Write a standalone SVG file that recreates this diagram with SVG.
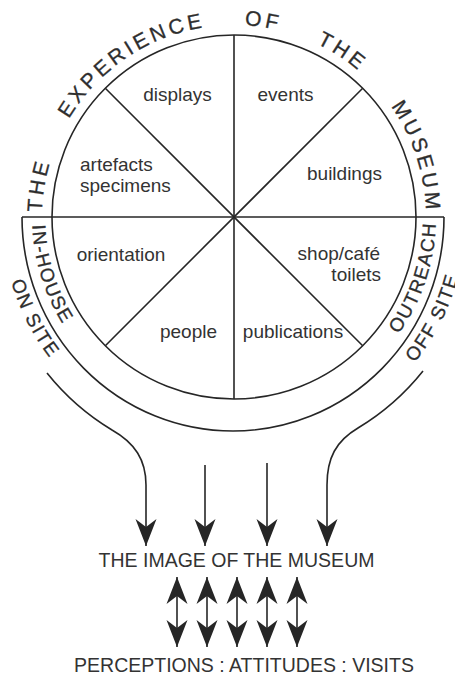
<svg xmlns="http://www.w3.org/2000/svg" xmlns:xlink="http://www.w3.org/1999/xlink" width="455" height="677" viewBox="0 0 455 677">
<style>
.ln{fill:none;stroke:#262626;stroke-width:1.6}
.lab{font-family:"Liberation Sans",Arial,sans-serif;font-size:19px;fill:#333}
.arc{font-family:"Liberation Sans",Arial,sans-serif;fill:#2e2e2e;stroke:#2e2e2e;stroke-width:0.3}
.top{font-size:21px;letter-spacing:3.5px}
.band{font-size:19px;letter-spacing:1.6px}
.big{font-family:"Liberation Sans",Arial,sans-serif;font-size:19.5px;fill:#333}
</style>
<defs>
<marker id="ah" viewBox="-28 -11 29 22" refX="0" refY="0" markerWidth="29" markerHeight="22" markerUnits="userSpaceOnUse" orient="auto-start-reverse">
<path d="M0,0 L-27,-10.5 L-19,0 L-27,10.5 Z" fill="#262626"/>
</marker>
<path id="topArc" d="M 42 217 A 192 192 0 0 1 426 217 A 192 192 0 0 1 42 217"/>
<path id="bandArc" d="M 32 217 A 202 202 0 0 0 436 217 A 202 202 0 0 0 32 217"/>
<path id="outArc" d="M 2 217 A 232 232 0 0 0 466 217 A 232 232 0 0 0 2 217"/>
</defs>
<rect width="455" height="677" fill="#fff"/>

<g id="wheel">
<circle class="ln" cx="234" cy="217" r="182"/>
<path class="ln" d="M 22 217 A 211 214 0 0 0 444 217"/>
<line class="ln" x1="22" y1="217" x2="444" y2="217"/>
<line class="ln" x1="234" y1="35" x2="234" y2="399"/>
<line class="ln" x1="105.3" y1="88.3" x2="362.7" y2="345.7"/>
<line class="ln" x1="362.7" y1="88.3" x2="105.3" y2="345.7"/>
</g>

<g id="arc-title">
<text class="arc top" text-anchor="middle"><textPath xlink:href="#topArc" href="#topArc" startOffset="31">THE</textPath></text>
<text class="arc top" text-anchor="middle"><textPath xlink:href="#topArc" href="#topArc" startOffset="188">EXPERIENCE</textPath></text>
<text class="arc top" text-anchor="middle"><textPath xlink:href="#topArc" href="#topArc" startOffset="330">OF</textPath></text>
<text class="arc top" text-anchor="middle"><textPath xlink:href="#topArc" href="#topArc" startOffset="413">THE</textPath></text>
<text class="arc top" text-anchor="middle"><textPath xlink:href="#topArc" href="#topArc" startOffset="542">MUSEUM</textPath></text>
</g>
<g id="in-house"><text class="arc band" text-anchor="middle"><textPath xlink:href="#bandArc" href="#bandArc" startOffset="61">IN-HOUSE</textPath></text></g>
<g id="outreach"><text class="arc band" text-anchor="middle"><textPath xlink:href="#bandArc" href="#bandArc" startOffset="569">OUTREACH</textPath></text></g>
<g id="on-site"><text class="arc band" text-anchor="middle"><textPath xlink:href="#outArc" href="#outArc" startOffset="109">ON SITE</textPath></text></g>
<g id="off-site"><text class="arc band" text-anchor="middle"><textPath xlink:href="#outArc" href="#outArc" startOffset="620">OFF SITE</textPath></text></g>

<g id="displays"><text class="lab" x="177.5" y="101" text-anchor="middle">displays</text></g>
<g id="events"><text class="lab" x="285.5" y="101" text-anchor="middle">events</text></g>
<g id="artefacts"><text class="lab" x="80" y="171">artefacts</text><text class="lab" x="80" y="192">specimens</text></g>
<g id="buildings"><text class="lab" x="344.5" y="180" text-anchor="middle">buildings</text></g>
<g id="orientation"><text class="lab" x="121" y="261" text-anchor="middle">orientation</text></g>
<g id="shop"><text class="lab" x="380" y="260" text-anchor="end">shop/café</text><text class="lab" x="381" y="281" text-anchor="end">toilets</text></g>
<g id="people"><text class="lab" x="188.5" y="338" text-anchor="middle">people</text></g>
<g id="publications"><text class="lab" x="293" y="338" text-anchor="middle">publications</text></g>

<g id="image"><text class="big" x="236.5" y="567" text-anchor="middle">THE IMAGE OF THE MUSEUM</text></g>
<g id="perceptions"><text class="big" x="244" y="672" text-anchor="middle" font-size="19">PERCEPTIONS : ATTITUDES : VISITS</text></g>

<g id="connectors">
<path class="ln" marker-end="url(#ah)" d="M 47 373 A 245 245 0 0 0 112 430 C 135 443 146 460 146 485 L 146 546"/>
<path class="ln" marker-end="url(#ah)" d="M 423 371 A 244 244 0 0 1 358 428 C 336 441 327 458 327 485 L 327 546"/>
<line class="ln" marker-end="url(#ah)" x1="205" y1="465" x2="205" y2="546"/>
<line class="ln" marker-end="url(#ah)" x1="267" y1="463" x2="267" y2="546"/>
<line class="ln" marker-start="url(#ah)" marker-end="url(#ah)" x1="177" y1="577" x2="177" y2="647"/>
<line class="ln" marker-start="url(#ah)" marker-end="url(#ah)" x1="207" y1="577" x2="207" y2="647"/>
<line class="ln" marker-start="url(#ah)" marker-end="url(#ah)" x1="237" y1="577" x2="237" y2="647"/>
<line class="ln" marker-start="url(#ah)" marker-end="url(#ah)" x1="267" y1="577" x2="267" y2="647"/>
<line class="ln" marker-start="url(#ah)" marker-end="url(#ah)" x1="297" y1="577" x2="297" y2="647"/>
</g>
</svg>
